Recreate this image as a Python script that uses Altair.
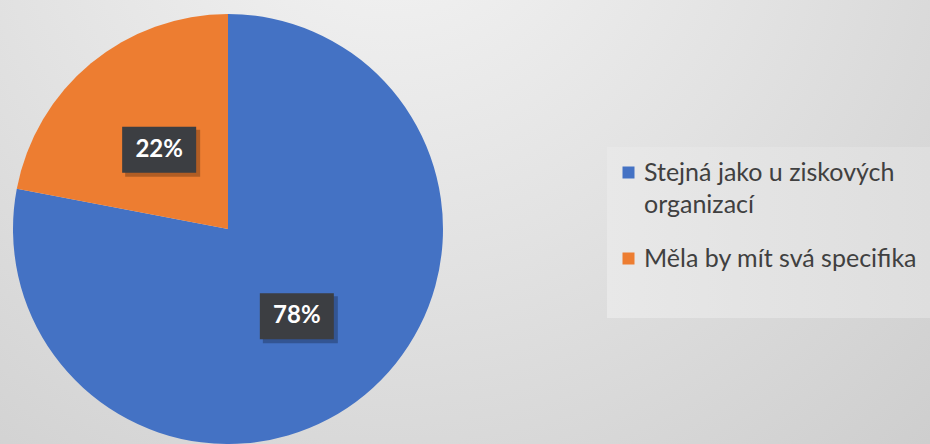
import altair as alt
import pandas as pd

# ---- data ----
categories = ["Stejná jako u ziskových organizací", "Měla by mít svá specifika"]
values = [78, 22]
labels = ["78%", "22%"]
colors = ["#4472C4", "#ED7D31"]

W, H = 930, 444
CX, CY, R = 228, 229, 215
LR = 108

df = pd.DataFrame({"cat": categories, "value": values, "label": labels, "order": [0, 1]})
one = pd.DataFrame({"a": [0]})

bg = alt.Chart(one).mark_rect(
    fill={
        "gradient": "radial",
        "x1": 0.42, "y1": 0.12, "r1": 0,
        "x2": 0.42, "y2": 0.12, "r2": 0.95,
        "stops": [
            {"offset": 0, "color": "#f5f5f5"},
            {"offset": 0.45, "color": "#e2e2e2"},
            {"offset": 1, "color": "#c9c9c9"},
        ],
    }
).encode(x=alt.value(0), x2=alt.value(W), y=alt.value(0), y2=alt.value(H))

legbox = alt.Chart(one).mark_rect(
    fill={
        "gradient": "linear", "x1": 0, "y1": 0, "x2": 1, "y2": 0,
        "stops": [{"offset": 0, "color": "#e8e8e8"}, {"offset": 1, "color": "#dedede"}],
    }
).encode(x=alt.value(607), x2=alt.value(W), y=alt.value(147), y2=alt.value(318))

base = alt.Chart(df)

pie = base.mark_arc(outerRadius=R).encode(
    theta=alt.Theta("value:Q", stack=True),
    color=alt.Color(
        "cat:N",
        scale=alt.Scale(domain=categories, range=colors),
        sort=categories,
        legend=alt.Legend(
            title=None, orient="none", legendX=616, legendY=160,
            symbolType="square", symbolSize=144, symbolStrokeWidth=0,
            labelFont="Lato", labelFontSize=25, labelColor="#404040",
            labelLimit=400, labelOffset=3, rowPadding=28, padding=0,
            labelExpr="datum.label == 'Stejná jako u ziskových organizací' ? ['Stejná jako u ziskových', 'organizací'] : datum.label",
        ),
    ),
    order=alt.Order("order:Q"),
    x=alt.value(CX),
    y=alt.value(CY),
)

lab = base.transform_window(
    cum="sum(value)", sort=[alt.SortField("order")], frame=[None, 0]
).transform_joinaggregate(total="sum(value)").transform_calculate(
    ang="2*PI*(datum.cum - datum.value/2)/datum.total",
    px=f"{CX} + {LR}*sin(datum.ang)",
    py=f"{CY + 4} - {LR}*cos(datum.ang)",
    bx1="datum.px - 37", bx2="datum.px + 37",
    by1="datum.py - 23", by2="datum.py + 23",
    sx1="datum.px - 34", sx2="datum.px + 41",
    sy1="datum.py - 20", sy2="datum.py + 27",
)

shadow = lab.mark_rect(color="#000000", opacity=0.25).encode(
    x=alt.X("sx1:Q", scale=None, axis=None), x2="sx2:Q",
    y=alt.Y("sy1:Q", scale=None, axis=None), y2="sy2:Q",
)
box = lab.mark_rect(color="#3c3e42").encode(
    x=alt.X("bx1:Q", scale=None, axis=None), x2="bx2:Q",
    y=alt.Y("by1:Q", scale=None, axis=None), y2="by2:Q",
)
txt = lab.mark_text(font="Lato", fontWeight="bold", fontSize=24, color="#ffffff",
                    baseline="middle", align="center").encode(
    x=alt.X("px:Q", scale=None, axis=None),
    y=alt.Y("py:Q", scale=None, axis=None),
    text="label:N",
)

chart = alt.layer(bg, legbox, pie, shadow, box, txt).properties(
    width=W, height=H, padding=0, autosize="none"
).configure_view(stroke=None).configure(
    style={"guide-label": {"lineHeight": 32}}
)

chart.save("out.html", embed_options={"renderer": "svg", "actions": False})
